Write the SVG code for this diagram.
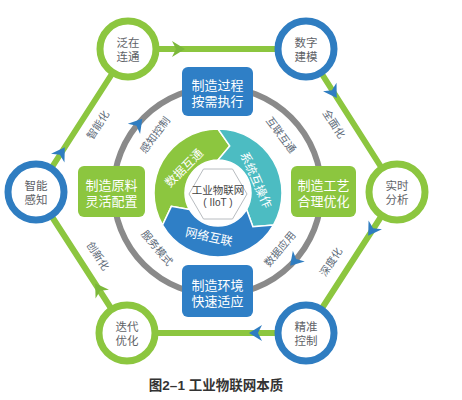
<svg xmlns="http://www.w3.org/2000/svg" width="462" height="400" viewBox="0 0 462 400">
<style>
text{font-family:"Liberation Sans","Noto Sans CJK SC",sans-serif;text-anchor:middle}
.ring{fill:#fff;stroke-width:7}
.g{stroke:#8cc63f}
.b{stroke:#2f7dc1}
.ct{font-size:11.5px;fill:#5f6368}
.bt{font-size:13px;fill:#fff}
.ll{font-size:10.5px;fill:#5d6a78}
.st{font-size:12px;fill:#fff}
.edge{stroke:#8cc63f;stroke-width:6;fill:none}
</style>
<defs>
<path id="chev" d="M7,0 L-6,-8 L-2,0 L-6,8 Z"/>
</defs>
<rect width="462" height="400" fill="#fff"/>

<g id="connectors">
<polygon class="edge" points="36,192 128,49 306,49 397,192 306,333 127,333" stroke-linejoin="round"/>
<circle cx="217.5" cy="191" r="104" fill="none" stroke="#8a8a8a" stroke-width="6"/>
<use href="#chev" fill="#2f7dc1" transform="translate(61,153) rotate(-57)"/>
<use href="#chev" fill="#7cb83a" transform="translate(178,49)"/>
<use href="#chev" fill="#2f7dc1" transform="translate(333,92) rotate(57.5)"/>
<use href="#chev" fill="#2f7dc1" transform="translate(372,230) rotate(123)"/>
<use href="#chev" fill="#2f7dc1" transform="translate(256,333) rotate(180)"/>
<use href="#chev" fill="#7cb83a" transform="translate(99,289) rotate(-123)"/>
<use href="#chev" fill="#2f7dc1" transform="translate(137.8,124.2) rotate(-50)"/>
<use href="#chev" fill="#2f7dc1" transform="translate(294.8,260.6) rotate(132)"/>
<text class="ll" transform="translate(98,125) rotate(-57)" y="3.7">智能化</text>
<text class="ll" transform="translate(334,124) rotate(57)" y="3.7">全面化</text>
<text class="ll" transform="translate(331,262) rotate(-57)" y="3.7">深度化</text>
<text class="ll" transform="translate(98,256) rotate(57)" y="3.7">创新化</text>
<text class="ll" transform="translate(155,135) rotate(-53)" y="3.7">感知控制</text>
<text class="ll" transform="translate(281,135) rotate(53)" y="3.7">互联互通</text>
<text class="ll" transform="translate(157,248) rotate(50)" y="3.7">服务模式</text>
<text class="ll" transform="translate(280,249) rotate(-50)" y="3.7">数据应用</text>
</g>

<g id="n-fanzai"><circle class="ring g" cx="128" cy="49" r="28"/><text class="ct" x="128" y="47">泛在<tspan x="128" dy="14">连通</tspan></text></g>
<g id="n-shuzi"><circle class="ring b" cx="306" cy="49" r="28"/><text class="ct" x="306" y="47">数字<tspan x="306" dy="14">建模</tspan></text></g>
<g id="n-shishi"><circle class="ring g" cx="397" cy="192" r="28"/><text class="ct" x="397" y="190">实时<tspan x="397" dy="14">分析</tspan></text></g>
<g id="n-jingzhun"><circle class="ring b" cx="306" cy="333" r="28"/><text class="ct" x="306" y="331">精准<tspan x="306" dy="14">控制</tspan></text></g>
<g id="n-diedai"><circle class="ring g" cx="127" cy="333" r="28"/><text class="ct" x="127" y="331">迭代<tspan x="127" dy="14">优化</tspan></text></g>
<g id="n-zhineng"><circle class="ring b" cx="36" cy="192" r="28"/><text class="ct" x="36" y="190">智能<tspan x="36" dy="14">感知</tspan></text></g>

<g id="b-top"><rect x="182" y="67" width="71" height="49" rx="6" fill="#2f7fc6"/><text class="bt" x="217.5" y="90">制造过程<tspan x="217.5" dy="16">按需执行</tspan></text></g>
<g id="b-left"><rect x="78" y="166" width="67" height="51" rx="6" fill="#8cc63f"/><text class="bt" x="111.5" y="190">制造原料<tspan x="111.5" dy="16">灵活配置</tspan></text></g>
<g id="b-right"><rect x="291" y="166" width="65" height="51" rx="6" fill="#8cc63f"/><text class="bt" x="323.5" y="190">制造工艺<tspan x="323.5" dy="16">合理优化</tspan></text></g>
<g id="b-bottom"><rect x="182" y="265" width="71" height="52" rx="6" fill="#2f7fc6"/><text class="bt" x="217.5" y="290">制造环境<tspan x="217.5" dy="15.5">快速适应</tspan></text></g>

<g id="seg-green"><path d="M162.57,225 A64,64 0 0 1 218,129 L229.73,145.94 L218,160 A33,33 0 0 0 189.42,209.5 L171.38,206.37 Z" fill="#8cc63f" stroke="#fff" stroke-width="1.5"/><text class="st" transform="translate(184,168) rotate(-45)" y="4.2">数据互通</text></g>
<g id="seg-teal"><path d="M218,129 A64,64 0 0 1 273.43,225 L252.89,226.69 L246.58,209.5 A33,33 0 0 0 218,160 L229.73,145.94 Z" fill="#4cbcc2" stroke="#fff" stroke-width="1.5"/><text class="st" transform="translate(256,180) rotate(66)" y="4.2">系统互操作</text></g>
<g id="seg-blue"><path d="M273.43,225 A64,64 0 0 1 162.57,225 L171.38,206.37 L189.42,209.5 A33,33 0 0 0 246.58,209.5 L252.89,226.69 Z" fill="#2f7fc6" stroke="#fff" stroke-width="1.5"/><text class="st" transform="translate(209,237) rotate(12)" y="4.2">网络互联</text></g>
<g id="hub"><polygon points="189,194 203.5,169 232.5,169 247,194 232.5,219 203.5,219" fill="#fff" stroke="#b8bcc0" stroke-width="1"/><text x="218" y="194" font-size="10.5" fill="#444">工业物联网<tspan x="218" dy="12" font-size="10">( IIoT )</tspan></text></g>

<text x="216" y="390" font-size="13.5" font-weight="bold" fill="#333">图2–1 工业物联网本质</text>
</svg>
